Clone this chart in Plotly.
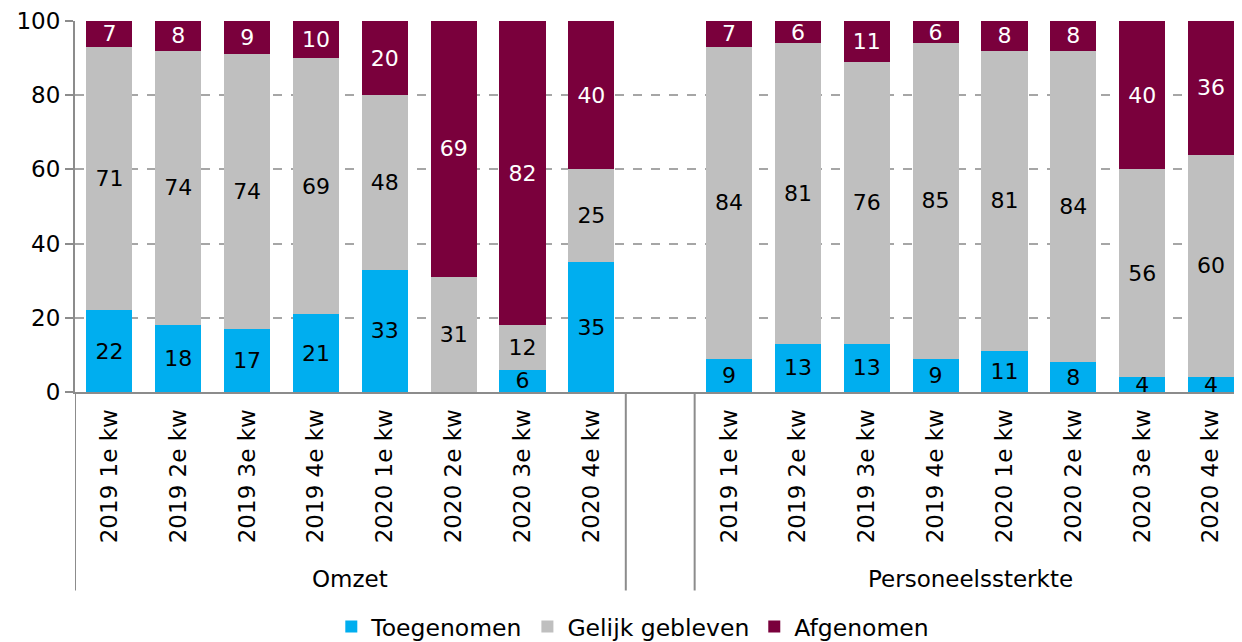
import plotly.graph_objects as go

# ── Data ──
QUARTERS = ["2019 1e kw", "2019 2e kw", "2019 3e kw", "2019 4e kw",
            "2020 1e kw", "2020 2e kw", "2020 3e kw", "2020 4e kw"]
GROUPS = ["Omzet", "Personeelssterkte"]

omzet_toe = [22, 18, 17, 21, 33, 0, 6, 35]
omzet_gelijk = [71, 74, 74, 69, 47, 31, 12, 25]
omzet_af = [7, 8, 9, 10, 20, 69, 82, 40]

pers_toe = [9, 13, 13, 9, 11, 8, 4, 4]
pers_gelijk = [84, 81, 76, 85, 81, 84, 56, 60]
pers_af = [7, 6, 11, 6, 8, 8, 40, 36]

omzet_labels_gelijk = [71, 74, 74, 69, 48, 31, 12, 25]

BLUE = "#00aeef"
GREY = "#bfbfbf"
MAROON = "#7a003c"
AXIS = "#8c8c8c"
FONT = "DejaVu Sans, Verdana, sans-serif"

# positions: 8 bars, one empty slot, 8 bars
n = len(QUARTERS)
x_omzet = list(range(n))
x_pers = [i + n + 1 for i in range(n)]
xs = x_omzet + x_pers


def lbl(vals):
    return [str(v) if v else "" for v in vals]


series = [
    ("Toegenomen", omzet_toe + pers_toe, lbl(omzet_toe + pers_toe), BLUE, "black"),
    ("Gelijk gebleven", omzet_gelijk + pers_gelijk,
     lbl(omzet_labels_gelijk + pers_gelijk), GREY, "black"),
    ("Afgenomen", omzet_af + pers_af, lbl(omzet_af + pers_af), MAROON, "white"),
]

fig = go.Figure()
for name, vals, txt, color, tcolor in series:
    fig.add_trace(go.Bar(
        x=xs, y=vals, name=name,
        marker=dict(color=color, line=dict(width=0)),
        text=txt, textposition="inside", insidetextanchor="middle",
        textangle=0,
        textfont=dict(color=tcolor, size=22, family=FONT),
        hoverinfo="skip",
    ))

# divider lines under the axis
shapes = []
for xv in [-0.5, n - 0.5, n + 0.5]:
    shapes.append(dict(type="line", xref="x", yref="paper",
                       x0=xv, x1=xv, y0=0, y1=-0.535,
                       line=dict(color=AXIS, width=2)))

annotations = [
    dict(text=GROUPS[0], x=(n - 1) / 2, y=-0.503, xref="x", yref="paper",
         showarrow=False, yanchor="middle",
         font=dict(size=23, color="black", family=FONT)),
    dict(text=GROUPS[1], x=n + 1 + (n - 1) / 2, y=-0.503, xref="x", yref="paper",
         showarrow=False, yanchor="middle",
         font=dict(size=23, color="black", family=FONT)),
]

# page body adds an 8px margin, so the figure is 8px smaller each way
fig.update_layout(
    width=1234, height=634,
    barmode="stack", bargap=0.33,
    plot_bgcolor="white", paper_bgcolor="white",
    margin=dict(l=67, r=0, t=13, b=250, autoexpand=False),
    font=dict(family=FONT, color="black", size=22),
    uniformtext=dict(minsize=22, mode="show"),
    shapes=shapes,
    annotations=annotations,
    legend=dict(
        orientation="h", xref="container", yref="container",
        x=0.262, xanchor="left", y=0.024, yanchor="middle",
        font=dict(size=23.5, family=FONT, color="black"),
        itemwidth=30, traceorder="normal",
    ),
    showlegend=True,
)

fig.update_xaxes(
    range=[-0.5, 2 * n + 0.45], automargin=False,
    tickmode="array", tickvals=xs, ticktext=QUARTERS + QUARTERS,
    tickangle=-90, ticks="", ticklabelstandoff=6,
    tickfont=dict(size=23, color="black", family=FONT),
    showline=True, linecolor=AXIS, linewidth=2,
    showgrid=False, zeroline=False,
)
fig.update_yaxes(
    range=[0, 100], tickvals=[0, 20, 40, 60, 80, 100], automargin=False,
    ticks="outside", ticklen=8, tickcolor=AXIS, tickwidth=2,
    tickfont=dict(size=23, color="black", family=FONT),
    showline=True, linecolor=AXIS, linewidth=2,
    showgrid=True, gridcolor="#a6a6a6", griddash="dash", gridwidth=1.5,
    zeroline=False,
)

fig.write_html("out.html")
